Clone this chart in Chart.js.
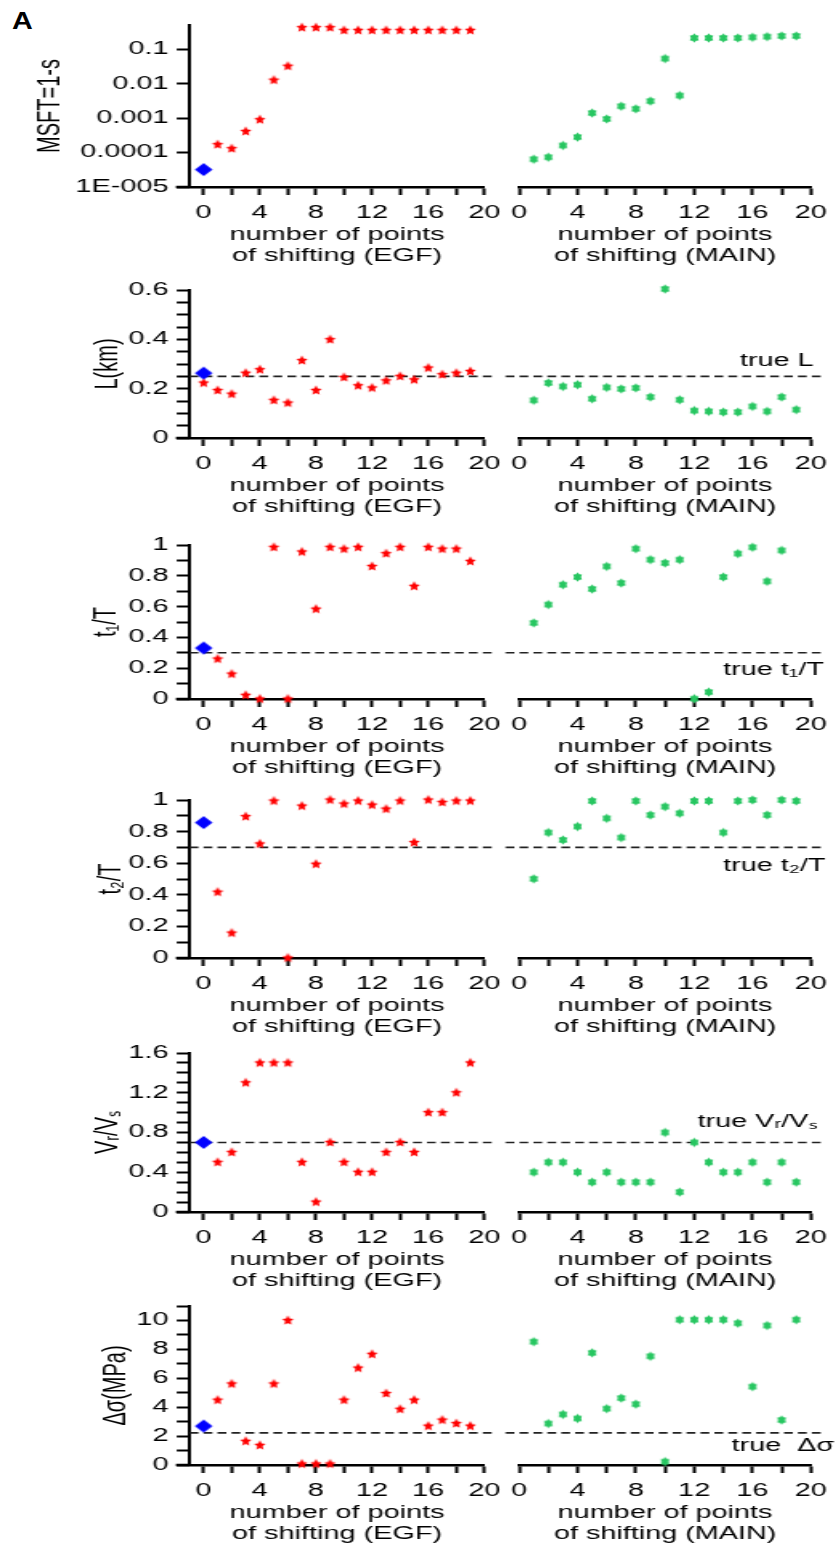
<!DOCTYPE html>
<html>
<head>
<meta charset="utf-8">
<script src="https://cdn.jsdelivr.net/npm/chart.js@4.4.0/dist/chart.umd.min.js"></script>
<style>
body { margin: 0; background: #fff; width: 838px; height: 1553px; position: relative; overflow: hidden; }
.box { position: absolute; transform: scaleX(1.6); transform-origin: 0 0; }
#panelLabel { position: absolute; left: 12px; top: 8px; font: bold 23px 'Liberation Sans', Arial, sans-serif; transform: scaleX(1.25); transform-origin: 0 0; }
</style>
</head>
<body>
<div id="panelLabel">A</div>
<script>
// values, index = number of points of shifting (0..19)
const msftEGF  = [null, 1.7e-4, 1.3e-4, 4.1e-4, 9e-4, 0.0126, 0.032, 0.42, 0.42, 0.42, 0.35, 0.35, 0.35, 0.35, 0.35, 0.35, 0.35, 0.35, 0.35, 0.35];
const msftMAIN = [null, 6.4e-5, 7.3e-5, 1.6e-4, 2.8e-4, 1.4e-3, 9.4e-4, 2.2e-3, 1.85e-3, 3.1e-3, 0.053, 4.5e-3, 0.21, 0.21, 0.21, 0.21, 0.22, 0.23, 0.24, 0.24];
const msftBest = 3.2e-5;
const msftTickLabels = ['1E-005', '0.0001', '0.001', '0.01', '0.1'];

const lEGF  = [0.223, 0.193, 0.178, 0.263, 0.277, 0.153, 0.142, 0.314, 0.193, 0.399, 0.246, 0.212, 0.203, 0.232, 0.25, 0.236, 0.284, 0.257, 0.263, 0.27];
const lMAIN = [null, 0.153, 0.223, 0.209, 0.216, 0.159, 0.205, 0.199, 0.203, 0.166, 0.604, 0.155, 0.111, 0.108, 0.105, 0.105, 0.128, 0.108, 0.166, 0.115];
const lBest = 0.263, lTrue = 0.25;

const t1EGF  = [null, 0.26, 0.162, 0.024, 0, 0.985, 0, 0.955, 0.584, 0.985, 0.974, 0.985, 0.861, 0.944, 0.985, 0.732, 0.985, 0.974, 0.974, 0.894];
const t1MAIN = [null, 0.494, 0.613, 0.742, 0.792, 0.714, 0.861, 0.753, 0.976, 0.905, 0.883, 0.905, 0.002, 0.045, 0.792, 0.944, 0.985, 0.764, 0.965, null];
const t1Best = 0.331, t1True = 0.3;

const t2EGF  = [null, 0.417, 0.158, 0.895, 0.722, 0.994, 0, 0.962, 0.594, 1.0, 0.975, 0.994, 0.968, 0.943, 0.994, 0.731, 1.0, 0.985, 0.994, 0.994];
const t2MAIN = [null, 0.501, 0.794, 0.747, 0.832, 0.994, 0.884, 0.762, 0.994, 0.905, 0.958, 0.916, 0.994, 0.994, 0.794, 0.994, 1.0, 0.905, 1.0, 0.994];
const t2Best = 0.857, t2True = 0.7;

const vrEGF  = [null, 0.5, 0.6, 1.3, 1.5, 1.5, 1.5, 0.5, 0.1, 0.7, 0.5, 0.4, 0.4, 0.6, 0.7, 0.6, 1.0, 1.0, 1.2, 1.5];
const vrMAIN = [null, 0.4, 0.5, 0.5, 0.4, 0.3, 0.4, 0.3, 0.3, 0.3, 0.8, 0.2, 0.7, 0.5, 0.4, 0.4, 0.5, 0.3, 0.5, 0.3];
const vrBest = 0.7, vrTrue = 0.7;

const dsEGF  = [null, 4.49, 5.61, 1.64, 1.36, 5.61, 10.0, 0.07, 0.07, 0.07, 4.49, 6.71, 7.66, 4.95, 3.86, 4.49, 2.69, 3.11, 2.87, 2.69];
const dsMAIN = [null, 8.53, 2.87, 3.5, 3.22, 7.76, 3.9, 4.63, 4.21, 7.52, 0.23, 10.05, 10.05, 10.05, 10.05, 9.81, 5.42, 9.65, 3.11, 10.05];
const dsBest = 2.69, dsTrue = 2.22;

const xTickStep = 2, xLabelStep = 4;

// layout of the six rows (page pixels)
const SX = 1.6, PADTOP = 18, XH = 82, YW = 118.1;
const rows = [
  { egf: msftEGF, main: msftMAIN, best: msftBest, log: true, min: 1e-5, max: 0.5, yTitle: 'MSFT=1-s', titlePad: 19, T: 25, B: 187 },
  { egf: lEGF, main: lMAIN, best: lBest, truth: lTrue, min: 0, max: 0.6, step: 0.05, labelStep: 0.2, yTitle: 'L(km)', titlePad: 55, T: 290, B: 438,
    trueText: 'true L', trueX: 20.2, trueDy: -15 },
  { egf: t1EGF, main: t1MAIN, best: t1Best, truth: t1True, min: 0, max: 1, step: 0.1, labelStep: 0.2, yTitle: 't\u2081/T', titlePad: 54, T: 545, B: 699,
    trueText: 'true t\u2081/T', trueX: 20.9, trueDy: 17 },
  { egf: t2EGF, main: t2MAIN, best: t2Best, truth: t2True, min: 0, max: 1, step: 0.1, labelStep: 0.2, yTitle: 't\u2082/T', titlePad: 57, T: 800, B: 958,
    trueText: 'true t\u2082/T', trueX: 21.0, trueDy: 19 },
  { egf: vrEGF, main: vrMAIN, best: vrBest, truth: vrTrue, min: 0, max: 1.6, step: 0.1, labelStep: 0.4, yTitle: 'V\u1d63/V\u209b', titlePad: 55, T: 1053, B: 1212,
    trueText: 'true V\u1d63/V\u209b', trueX: 20.5, trueDy: -20 },
  { egf: dsEGF, main: dsMAIN, best: dsBest, truth: dsTrue, min: 0, max: 11, step: 1, labelStep: 2, yTitle: '\u0394\u03c3(MPa)', titlePad: 60, T: 1306, B: 1465,
    trueText: 'true  \u0394\u03c3', trueX: 21.6, trueDy: 13 }
];

Chart.defaults.font.family = "'Liberation Sans', Arial, sans-serif";
Chart.defaults.color = '#000';

function markerImg(n, rOut, rIn, sx, color) {
  const c = document.createElement('canvas');
  const w = Math.ceil(2 * rOut * sx) + 2, h = Math.ceil(2 * rOut) + 2;
  c.width = w; c.height = h;
  const g = c.getContext('2d');
  g.fillStyle = color;
  g.beginPath();
  for (let i = 0; i < 2 * n; i++) {
    const a = Math.PI * i / n, r = i % 2 ? rIn : rOut;
    const px = w / 2 + Math.sin(a) * r * sx, py = h / 2 - Math.cos(a) * r;
    if (i) g.lineTo(px, py); else g.moveTo(px, py);
  }
  g.closePath();
  g.fill();
  return c;
}
const redStar = markerImg(5, 5.2, 2.5, 0.72, '#ff0000');
const greenStar = markerImg(6, 4.8, 3.3, 0.66, 'rgb(38,198,96)');
const blueDiamond = markerImg(2, 6.5, 6.5, 0.85, '#0000ff');

const toPts = arr => arr.map((v, i) => v === null ? null : { x: i, y: v }).filter(p => p);
const isMult = (v, s) => Math.abs(v / s - Math.round(v / s)) < 1e-6;

const trueLabel = {
  id: 'trueLabel',
  afterDatasetsDraw(chart, args, opts) {
    if (!opts.text) return;
    const ctx = chart.ctx;
    ctx.save();
    ctx.font = "18px 'Liberation Sans', Arial, sans-serif";
    ctx.fillStyle = '#000';
    ctx.textAlign = 'right';
    ctx.textBaseline = 'middle';
    ctx.fillText(opts.text, chart.scales.x.getPixelForValue(opts.x), chart.scales.y.getPixelForValue(opts.y) + opts.dy);
    ctx.restore();
  }
};

// short piece of the x axis line sticking out left of the y axis
const axisStub = {
  id: 'axisStub',
  afterDraw(chart, args, opts) {
    if (!opts.len) return;
    const ctx = chart.ctx, a = chart.chartArea;
    ctx.save();
    ctx.strokeStyle = '#000';
    ctx.lineWidth = 2.5;
    ctx.beginPath();
    ctx.moveTo(a.left - opts.len, a.bottom);
    ctx.lineTo(a.left, a.bottom);
    ctx.stroke();
    ctx.restore();
  }
};

function makeChart(row, side) {
  const isLeft = side === 'EGF';
  const box = document.createElement('div');
  box.className = 'box';
  const wPage = isLeft ? 510 : 338;
  box.style.left = (isLeft ? 0 : 500) + 'px';
  box.style.top = (row.T - PADTOP) + 'px';
  box.style.width = (wPage / SX) + 'px';
  box.style.height = (row.B - row.T + PADTOP + XH) + 'px';
  const cv = document.createElement('canvas');
  box.appendChild(cv);
  document.body.appendChild(box);

  const datasets = [];
  if (isLeft) {
    datasets.push({ data: [{ x: 0, y: row.best }], pointStyle: blueDiamond, pointRadius: 6, clip: false });
    datasets.push({ data: toPts(row.egf), pointStyle: redStar, pointRadius: 5, clip: false });
  } else {
    datasets.push({ data: toPts(row.main), pointStyle: greenStar, pointRadius: 5, clip: false });
  }
  if (row.truth !== undefined) {
    const x0 = isLeft ? -1 : -0.93, x1 = 20.7;
    datasets.push({ data: [{ x: x0, y: row.truth }, { x: x1, y: row.truth }], showLine: true, pointRadius: 0,
      borderColor: '#222', borderWidth: 1.6, borderDash: [5.5, 3.2], clip: false });
  }

  const yScale = {
    type: row.log ? 'logarithmic' : 'linear',
    min: row.min, max: row.max,
    afterBuildTicks: s => {
      const t = [];
      if (row.log) { for (let e = -5; e <= -1; e++) t.push({ value: Math.pow(10, e) }); }
      else { for (let v = row.min; v <= row.max + 1e-9; v += row.step) t.push({ value: +v.toFixed(4) }); }
      s.ticks = t;
    },
    display: isLeft,
    border: { color: '#000', width: 2 },
    grid: { drawOnChartArea: false, tickLength: 8, tickWidth: 2, tickColor: '#000' },
    ticks: {
      color: '#000', font: { size: 18 }, padding: 5, autoSkip: false,
      callback: (v, i) => row.log ? msftTickLabels[i] : (isMult(v, row.labelStep) ? String(+v.toFixed(2)) : '')
    },
    title: { display: true, text: row.yTitle, color: '#000', font: { size: 20, lineHeight: 1.2 }, padding: { top: row.titlePad, bottom: 0 } }
  };
  if (isLeft) yScale.afterFit = s => { s.width = YW; };

  new Chart(cv, {
    type: 'scatter',
    data: { datasets },
    plugins: [trueLabel, axisStub],
    options: {
      responsive: true, maintainAspectRatio: false, animation: false,
      layout: { padding: isLeft ? { left: 0, right: 12.5, top: PADTOP, bottom: 0 } : { left: 8.75, right: 15, top: PADTOP, bottom: 0 } },
      plugins: {
        legend: { display: false }, tooltip: { enabled: false },
        trueLabel: isLeft ? {} : { text: row.trueText, x: row.trueX, y: row.truth, dy: row.trueDy },
        axisStub: { len: isLeft ? 8.5 : 0 }
      },
      scales: {
        x: {
          type: 'linear', min: isLeft ? -1 : 0, max: 20,
          afterBuildTicks: s => { const t = []; for (let v = 0; v <= 20; v += xTickStep) t.push({ value: v }); s.ticks = t; },
          afterFit: s => { s.height = XH; },
          border: { color: '#000', width: 2.5 },
          grid: { drawOnChartArea: false, tickLength: 8, tickWidth: 2, tickColor: '#000' },
          ticks: { color: '#000', font: { size: 18 }, padding: 7, maxRotation: 0, autoSkip: false,
            callback: v => v % xLabelStep === 0 ? String(v) : '' },
          title: { display: true, text: ['number of points', 'of shifting (' + side + ')'], color: '#000',
            font: { size: 18, lineHeight: 1.15 }, padding: { top: 0, bottom: 3 } }
        },
        y: yScale
      }
    }
  });
}

rows.forEach(r => { makeChart(r, 'EGF'); makeChart(r, 'MAIN'); });
</script>
</body>
</html>
